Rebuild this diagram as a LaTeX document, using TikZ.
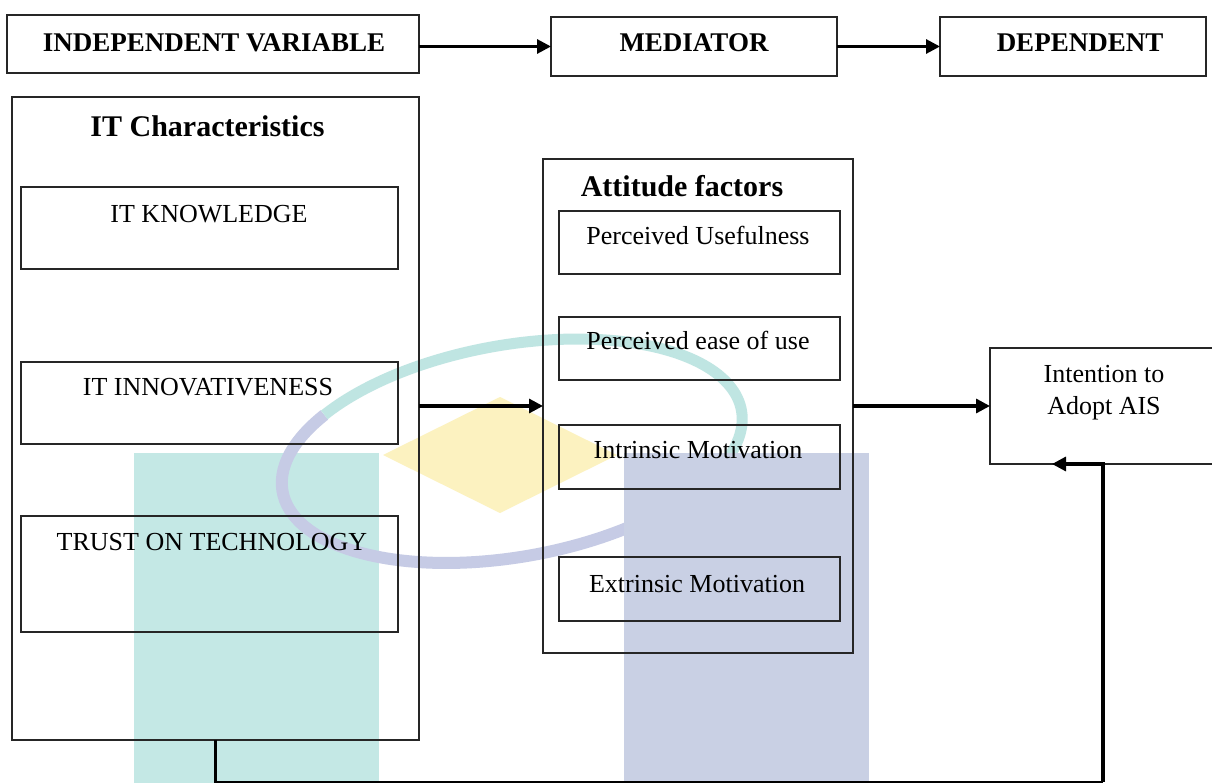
\documentclass[tikz,border=0pt]{standalone}
\usepackage{fontspec}
\setmainfont{Liberation Serif}
\usetikzlibrary{arrows.meta}

\definecolor{wmteal}{HTML}{C4E8E5}
\definecolor{wmblue}{HTML}{C9D0E4}
\definecolor{wmyellow}{HTML}{FCF2C0}
\definecolor{wmring}{HTML}{C6CBE5}
\definecolor{wmringteal}{HTML}{BFE5E2}

\tikzset{
  box/.style={draw=black!85, line width=1.5pt, inner sep=0pt, outer sep=0pt},
  txt/.style={anchor=base, inner sep=0pt, font=\fontsize{26}{31}\selectfont},
  headtxt/.style={anchor=base, inner sep=0pt, font=\fontsize{27}{32}\selectfont\bfseries},
  titletxt/.style={anchor=base, inner sep=0pt, font=\fontsize{30}{36}\selectfont\bfseries},
  arr/.style={line width=3.2pt, -{Triangle[length=14pt, width=14pt]}},
  wire/.style={line width=3pt},
}

\begin{document}
\begin{tikzpicture}[x=1pt, y=1pt]
\useasboundingbox (0,0) rectangle (1212,-783);
\clip (0,0) rectangle (1212,-783);
\fill[white] (0,0) rectangle (1212,-783);

% background emblem
\fill[wmteal] (134,-453) rectangle (379,-790);
\begin{scope}[rotate around={10:(512,-451)}]
  \draw[wmring, line width=12pt] (512,-451) ++(140:233 and 106)
    arc[start angle=140, end angle=310, x radius=233, y radius=106];
  \draw[wmringteal, line width=11pt] (512,-451) ++(140:233 and 106)
    arc[start angle=140, end angle=-50, x radius=233, y radius=106];
\end{scope}
\fill[wmblue] (624,-453) rectangle (869,-790);
\fill[wmyellow] (383,-455) -- (500,-397) -- (617,-455) -- (500,-513) -- cycle;

% header row
\node[box, minimum width=412pt, minimum height=58pt] (indep) at (213,-44) {};
\node[box, minimum width=286pt, minimum height=59pt] (mediator) at (694,-46.5) {};
\node[box, minimum width=266pt, minimum height=59pt] (dependent) at (1073,-46.5) {};
\node[headtxt] (indeptxt) at (214,-52) {INDEPENDENT VARIABLE};
\node[headtxt] (mediatortxt) at (694,-52) {MEDIATOR};
\node[headtxt] (dependenttxt) at (1080,-52) {DEPENDENT};

% IT characteristics group
\node[box, minimum width=407pt, minimum height=643pt] (itchar) at (215.5,-418.5) {};
\node[titletxt] (itchartxt) at (207.5,-137) {IT Characteristics};
\node[box, minimum width=377pt, minimum height=82pt] (knowledge) at (209.5,-228) {};
\node[box, minimum width=377pt, minimum height=82pt] (innov) at (209.5,-403) {};
\node[box, minimum width=377pt, minimum height=116pt] (trust) at (209.5,-574) {};
\node[txt] (knowledgetxt) at (209,-223) {IT KNOWLEDGE};
\node[txt] (innovtxt) at (208,-395) {IT INNOVATIVENESS};
\node[txt] (trusttxt) at (212,-550) {TRUST ON TECHNOLOGY};

% attitude factors group
\node[box, minimum width=310pt, minimum height=494pt] (attitude) at (698,-406) {};
\node[titletxt] (attitudetxt) at (682,-197) {Attitude factors};
\node[box, minimum width=281pt, minimum height=63pt] (pu) at (699.5,-242.5) {};
\node[box, minimum width=281pt, minimum height=63pt] (peou) at (699.5,-348.5) {};
\node[box, minimum width=281pt, minimum height=64pt] (im) at (699.5,-457) {};
\node[box, minimum width=281pt, minimum height=64pt] (em) at (699.5,-589) {};
\node[txt] (putxt) at (698,-245) {Perceived Usefulness};
\node[txt] (peoutxt) at (698,-349) {Perceived ease of use};
\node[txt] (imtxt) at (698,-458) {Intrinsic Motivation};
\node[txt] (emtxt) at (697,-592) {Extrinsic Motivation};

% outcome
\node[box, minimum width=232pt, minimum height=116pt] (intention) at (1106,-406) {};
\node[txt] (intentiontxt) at (1104,-382) {Intention to};
\node[txt] (adopttxt) at (1104,-414) {Adopt AIS};

% connectors
\draw[arr, line width=3pt] (indep.east |- mediator.west) -- (mediator.west);
\draw[arr, line width=3pt] (mediator.east) -- (dependent.west);
\draw[arr] (itchar.east |- attitude.west) -- (attitude.west);
\draw[arr] (attitude.east) -- (intention.west |- attitude.east);

\coordinate (fblow) at (1103,-782);
\coordinate (fbtip) at (1052,-464);
\draw[wire] (itchar.south) |- (fblow);
\draw[arr] (fblow) |- (fbtip);
\end{tikzpicture}
\end{document}
